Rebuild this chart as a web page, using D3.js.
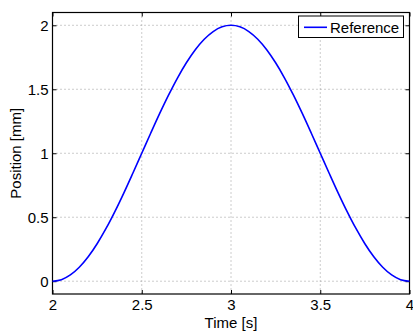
<!DOCTYPE html>
<html>
<head>
<meta charset="utf-8">
<script src="https://cdnjs.cloudflare.com/ajax/libs/d3/7.8.5/d3.min.js"></script>
<style>
  body { margin: 0; background: #fff; }
  text { font-family: "Liberation Sans", Arial, sans-serif; }
</style>
</head>
<body>
<script>
var svgWidth = 413;
var svgHeight = 331;

var margin = { top: 12.5, right: 3.5, bottom: 37, left: 52.5 };
var width = svgWidth - margin.left - margin.right;
var height = svgHeight - margin.top - margin.bottom;
var fontSize = 15;

// data
var time = [2.00, 2.05, 2.10, 2.15, 2.20, 2.25, 2.30, 2.35, 2.40, 2.45,
            2.50, 2.55, 2.60, 2.65, 2.70, 2.75, 2.80, 2.85, 2.90, 2.95,
            3.00, 3.05, 3.10, 3.15, 3.20, 3.25, 3.30, 3.35, 3.40, 3.45,
            3.50, 3.55, 3.60, 3.65, 3.70, 3.75, 3.80, 3.85, 3.90, 3.95, 4.00];
var position = [0.000, 0.012, 0.049, 0.109, 0.191, 0.293, 0.412, 0.546, 0.691, 0.844,
                1.000, 1.156, 1.309, 1.454, 1.588, 1.707, 1.809, 1.891, 1.951, 1.988,
                2.000, 1.988, 1.951, 1.891, 1.809, 1.707, 1.588, 1.454, 1.309, 1.156,
                1.000, 0.844, 0.691, 0.546, 0.412, 0.293, 0.191, 0.109, 0.049, 0.012, 0.000];
var xTicks = [2, 2.5, 3, 3.5, 4];
var yTicks = [0, 0.5, 1, 1.5, 2];
var seriesName = "Reference";

var svg = d3.select("body")
    .append("svg")
    .attr("width", svgWidth)
    .attr("height", svgHeight);

var chartGroup = svg.append("g")
    .attr("transform", `translate(${margin.left}, ${margin.top})`);

var x = d3.scaleLinear().domain([2, 4]).range([0, width]);
var y = d3.scaleLinear().domain([-0.1, 2.1]).range([height, 0]);

// grid
chartGroup.append("g")
    .selectAll("line")
    .data(xTicks.slice(1, -1))
    .enter().append("line")
    .attr("x1", d => x(d)).attr("x2", d => x(d))
    .attr("y1", 0).attr("y2", height)
    .attr("stroke", "#999").attr("stroke-width", 1)
    .attr("stroke-dasharray", "1,3");

chartGroup.append("g")
    .selectAll("line")
    .data(yTicks)
    .enter().append("line")
    .attr("y1", d => y(d)).attr("y2", d => y(d))
    .attr("x1", 0).attr("x2", width)
    .attr("stroke", "#999").attr("stroke-width", 1)
    .attr("stroke-dasharray", "1,3");

// axes, ticks pointing inwards like matlab
var bottomAxis = d3.axisBottom(x).tickValues(xTicks).tickSizeInner(-4).tickSizeOuter(0).tickPadding(5.5).tickFormat(d3.format("~g"));
var topAxis = d3.axisTop(x).tickValues(xTicks).tickSizeInner(-4).tickSizeOuter(0).tickFormat("");
var leftAxis = d3.axisLeft(y).tickValues(yTicks).tickSizeInner(-4).tickSizeOuter(0).tickPadding(4).tickFormat(d3.format("~g"));
var rightAxis = d3.axisRight(y).tickValues(yTicks).tickSizeInner(-4).tickSizeOuter(0).tickFormat("");

function styleAxis(g) {
    g.select(".domain").remove();
    g.selectAll("line").attr("stroke", "#000");
    g.selectAll("text").attr("font-size", fontSize).attr("fill", "#000")
        .attr("font-family", "Liberation Sans, Arial, sans-serif");
}

chartGroup.append("g").attr("transform", `translate(0, ${height})`).call(bottomAxis).call(styleAxis);
chartGroup.append("g").call(topAxis).call(styleAxis);
chartGroup.append("g").call(leftAxis).call(styleAxis);
chartGroup.append("g").attr("transform", `translate(${width}, 0)`).call(rightAxis).call(styleAxis);

// box
chartGroup.append("rect")
    .attr("width", width).attr("height", height)
    .attr("fill", "none").attr("stroke", "#000").attr("stroke-width", 1.2);

// curve
var line = d3.line()
    .x((d, i) => x(time[i]))
    .y(d => y(d))
    .curve(d3.curveMonotoneX);

chartGroup.append("path")
    .datum(position)
    .attr("d", line)
    .attr("fill", "none")
    .attr("stroke", "#0000ff")
    .attr("stroke-width", 1.6);

// legend
var legend = svg.append("g").attr("transform", "translate(298.5, 16)");
legend.append("rect")
    .attr("width", 105).attr("height", 21.5)
    .attr("fill", "#fff").attr("stroke", "#000").attr("stroke-width", 1);
legend.append("line")
    .attr("x1", 5.5).attr("x2", 28.5).attr("y1", 11.3).attr("y2", 11.3)
    .attr("stroke", "#0000ff").attr("stroke-width", 1.6);
legend.append("text")
    .attr("x", 31.5).attr("y", 16.5)
    .attr("font-size", fontSize)
    .text(seriesName);

// axis labels
svg.append("text")
    .attr("x", margin.left + width / 2).attr("y", 328)
    .attr("text-anchor", "middle").attr("font-size", fontSize)
    .text("Time [s]");

svg.append("text")
    .attr("transform", `translate(20.5, ${margin.top + height / 2}) rotate(-90)`)
    .attr("text-anchor", "middle").attr("font-size", fontSize)
    .text("Position [mm]");
</script>
</body>
</html>
